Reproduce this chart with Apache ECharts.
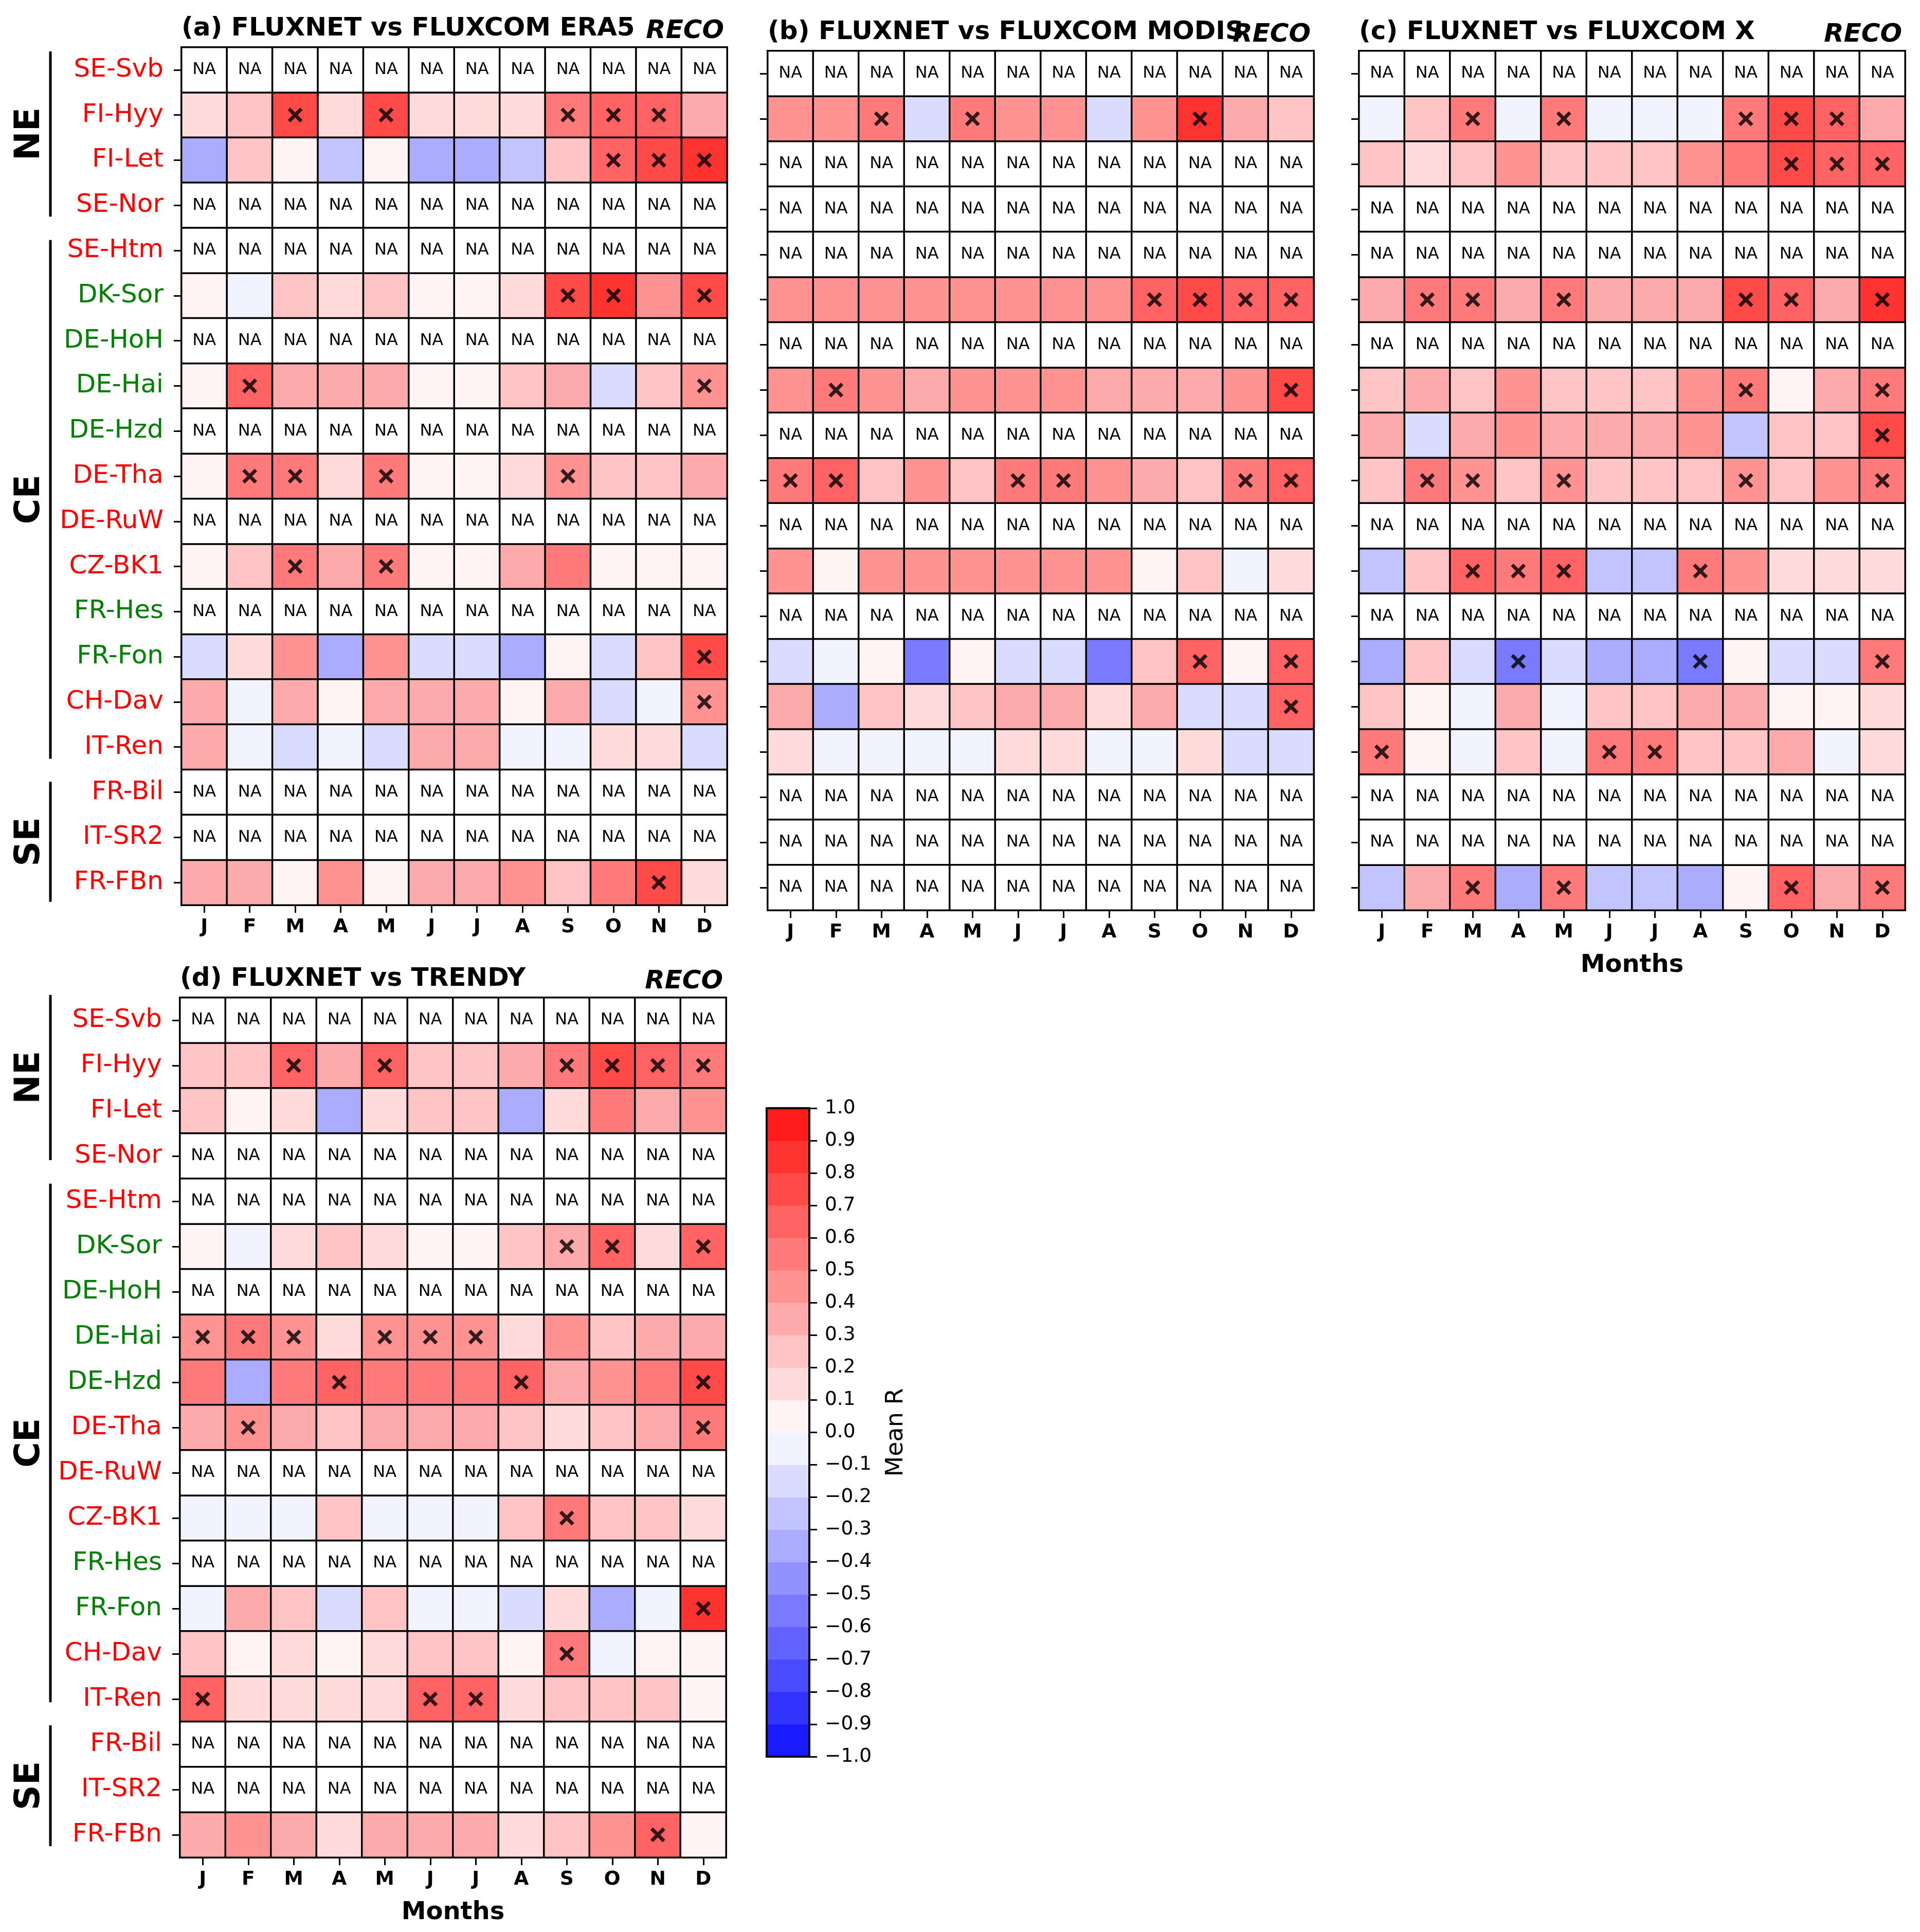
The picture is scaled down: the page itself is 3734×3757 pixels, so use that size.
<!DOCTYPE html>
<html><head><meta charset="utf-8">
<script src="https://cdn.jsdelivr.net/npm/echarts@6/dist/echarts.min.js"></script>
<style>html,body{margin:0;padding:0;background:#fff}#c{width:3734px;height:3757px}</style>
</head><body><div id="c"></div><script>
// ---------------- DATA ----------------
const months = ['J','F','M','A','M','J','J','A','S','O','N','D'];
const sites = ['SE-Svb','FI-Hyy','FI-Let','SE-Nor','SE-Htm','DK-Sor','DE-HoH','DE-Hai','DE-Hzd','DE-Tha','DE-RuW','CZ-BK1','FR-Hes','FR-Fon','CH-Dav','IT-Ren','FR-Bil','IT-SR2','FR-FBn'];
const greenSites = ['DK-Sor','DE-HoH','DE-Hai','DE-Hzd','FR-Hes','FR-Fon'];
const regions = [{name:'NE', first:0, last:3},{name:'CE', first:4, last:15},{name:'SE', first:16, last:18}];
const panelTitles = ['(a) FLUXNET vs FLUXCOM ERA5','(b) FLUXNET vs FLUXCOM MODIS','(c) FLUXNET vs FLUXCOM X','(d) FLUXNET vs TRENDY'];
const variableName = 'RECO';
const colorbarLabel = 'Mean R';
const cbBounds = [-1.0,-0.9,-0.8,-0.7,-0.6,-0.5,-0.4,-0.3,-0.2,-0.1,0.0,0.1,0.2,0.3,0.4,0.5,0.6,0.7,0.8,0.9,1.0];
const N = null;

const valuesA = [
  N,
  [0.15,0.25,0.75,0.15,0.75,0.15,0.15,0.15,0.55,0.65,0.65,0.35],
  [-0.35,0.25,0.05,-0.25,0.05,-0.35,-0.35,-0.25,0.25,0.65,0.75,0.85],
  N, N,
  [0.05,-0.05,0.25,0.15,0.25,0.05,0.05,0.15,0.75,0.85,0.45,0.75],
  N,
  [0.05,0.65,0.35,0.35,0.35,0.05,0.05,0.25,0.35,-0.15,0.25,0.45],
  N,
  [0.05,0.55,0.55,0.15,0.55,0.05,0.05,0.15,0.45,0.25,0.25,0.35],
  N,
  [0.05,0.25,0.55,0.35,0.55,0.05,0.05,0.35,0.55,0.05,0.05,0.05],
  N,
  [-0.15,0.15,0.45,-0.35,0.45,-0.15,-0.15,-0.35,0.05,-0.15,0.25,0.75],
  [0.35,-0.05,0.35,0.05,0.35,0.35,0.35,0.05,0.35,-0.15,-0.05,0.45],
  [0.35,-0.05,-0.15,-0.05,-0.15,0.35,0.35,-0.05,-0.05,0.15,0.15,-0.15],
  N, N,
  [0.35,0.35,0.05,0.45,0.05,0.35,0.35,0.45,0.25,0.55,0.75,0.15]
];
const sigA = ['............','..x.x...xxx.','.........xxx','............','............','........xx.x','............','.x.........x','............','.xx.x...x...','............','..x.x.......','............','...........x','...........x','............','............','............','..........x.'];

const valuesB = [
  N,
  [0.45,0.45,0.55,-0.15,0.55,0.45,0.45,-0.15,0.45,0.85,0.35,0.25],
  N, N, N,
  [0.45,0.45,0.45,0.45,0.45,0.45,0.45,0.45,0.65,0.75,0.65,0.65],
  N,
  [0.45,0.55,0.45,0.35,0.45,0.45,0.45,0.35,0.35,0.35,0.45,0.75],
  N,
  [0.55,0.65,0.25,0.45,0.25,0.55,0.55,0.45,0.35,0.25,0.55,0.65],
  N,
  [0.45,0.05,0.45,0.45,0.45,0.45,0.45,0.45,0.05,0.25,-0.05,0.15],
  N,
  [-0.15,-0.05,0.05,-0.55,0.05,-0.15,-0.15,-0.55,0.25,0.65,0.05,0.65],
  [0.35,-0.35,0.25,0.15,0.25,0.35,0.35,0.15,0.35,-0.15,-0.15,0.65],
  [0.15,-0.05,-0.05,-0.05,-0.05,0.15,0.15,-0.05,-0.05,0.15,-0.15,-0.15],
  N, N, N
];
const sigB = ['............','..x.x....x..','............','............','............','........xxxx','............','.x.........x','............','xx...xx...xx','............','............','............','.........x.x','...........x','............','............','............','............'];

const valuesC = [
  N,
  [-0.05,0.25,0.55,-0.05,0.55,-0.05,-0.05,-0.05,0.55,0.75,0.65,0.35],
  [0.25,0.15,0.25,0.45,0.25,0.25,0.25,0.45,0.55,0.75,0.65,0.65],
  N, N,
  [0.35,0.55,0.55,0.35,0.55,0.35,0.35,0.35,0.75,0.65,0.35,0.85],
  N,
  [0.25,0.35,0.25,0.45,0.25,0.25,0.25,0.45,0.55,0.05,0.35,0.55],
  [0.35,-0.15,0.35,0.45,0.35,0.35,0.35,0.45,-0.25,0.25,0.25,0.75],
  [0.25,0.55,0.45,0.25,0.45,0.25,0.25,0.25,0.45,0.25,0.45,0.55],
  N,
  [-0.25,0.25,0.65,0.55,0.65,-0.25,-0.25,0.55,0.45,0.15,0.15,0.15],
  N,
  [-0.35,0.25,-0.15,-0.55,-0.15,-0.35,-0.35,-0.55,0.05,-0.15,-0.15,0.55],
  [0.25,0.05,-0.05,0.35,-0.05,0.25,0.25,0.35,0.35,0.05,0.05,0.15],
  [0.55,0.05,-0.05,0.25,-0.05,0.55,0.55,0.25,0.25,0.35,-0.05,0.15],
  N, N,
  [-0.25,0.35,0.55,-0.35,0.55,-0.25,-0.25,-0.35,0.05,0.65,0.35,0.55]
];
const sigC = ['............','..x.x...xxx.','.........xxx','............','............','.xx.x...xx.x','............','........x..x','...........x','.xx.x...x..x','............','..xxx..x....','............','...x...x...x','............','x....xx.....','............','............','..x.x....x.x'];

const valuesD = [
  N,
  [0.25,0.25,0.65,0.35,0.65,0.25,0.25,0.35,0.55,0.75,0.65,0.55],
  [0.25,0.05,0.15,-0.35,0.15,0.25,0.25,-0.35,0.15,0.55,0.35,0.45],
  N, N,
  [0.05,-0.05,0.15,0.25,0.15,0.05,0.05,0.25,0.35,0.65,0.15,0.65],
  N,
  [0.45,0.55,0.45,0.15,0.45,0.45,0.45,0.15,0.45,0.25,0.35,0.35],
  [0.55,-0.35,0.55,0.65,0.55,0.55,0.55,0.65,0.35,0.45,0.55,0.75],
  [0.35,0.45,0.35,0.25,0.35,0.35,0.35,0.25,0.15,0.25,0.35,0.55],
  N,
  [-0.05,-0.05,-0.05,0.25,-0.05,-0.05,-0.05,0.25,0.55,0.25,0.25,0.15],
  N,
  [-0.05,0.35,0.25,-0.15,0.25,-0.05,-0.05,-0.15,0.15,-0.35,-0.05,0.85],
  [0.25,0.05,0.15,0.05,0.15,0.25,0.25,0.05,0.55,-0.05,0.05,0.05],
  [0.65,0.15,0.15,0.15,0.15,0.65,0.65,0.15,0.25,0.25,0.25,0.05],
  N, N,
  [0.35,0.45,0.35,0.15,0.35,0.35,0.35,0.15,0.25,0.45,0.65,0.05]
];
const sigD = ['............','..x.x...xxxx','............','............','............','........xx.x','............','xxx.xxx.....','...x...x...x','.x.........x','............','........x...','............','...........x','........x...','x....xx.....','............','............','..........x.'];

// ---------------- LAYOUT / STYLE ----------------
const FONT = '"DejaVu Sans"';
const gridBoxes = [
  {left:353, top:92, width:1061, height:1668},
  {left:1493, top:99, width:1062, height:1671},
  {left:2643, top:99, width:1062, height:1671},
  {left:350, top:1940, width:1062, height:1672}
];
const cbBox = {left:1491, top:2155, width:83, height:1261};
const panels = [
  {values:valuesA, sig:sigA, showSites:true, xName:''},
  {values:valuesB, sig:sigB, showSites:false, xName:''},
  {values:valuesC, sig:sigC, showSites:false, xName:'Months'},
  {values:valuesD, sig:sigD, showSites:true, xName:'Months'}
];

function cmapColor(k){ // discretised matplotlib bwr, alpha 0.9 over white
  const t = k/19;
  let r,g,b;
  if (t < 0.5){ r = 2*t; g = 2*t; b = 1; } else { r = 1; g = 2*(1-t); b = 2*(1-t); }
  const f = c => Math.round((0.9*c + 0.1)*255);
  return 'rgb(' + f(r) + ',' + f(g) + ',' + f(b) + ')';
}
const pieces = [];
for (let k = 0; k < cbBounds.length-1; k++) pieces.push({min:cbBounds[k], max:cbBounds[k+1], color:cmapColor(k)});

const xPath = 'path://M0,3.4L3.4,0L10,6.6L16.6,0L20,3.4L13.4,10L20,16.6L16.6,20L10,13.4L3.4,20L0,16.6L6.6,10Z';

const grids = [], xAxes = [], yAxes = [], series = [], valueSeriesIdx = [], naSeriesIdx = [], graphics = [];

panels.forEach((p, gi) => {
  grids.push(Object.assign({containLabel:false}, gridBoxes[gi]));
  xAxes.push({
    gridIndex:gi, type:'category', data: months.map((m,i)=>String(i)), position:'bottom',
    axisLine:{show:true, lineStyle:{color:'#000', width:3.5}},
    axisTick:{show:true, alignWithLabel:true, length:15, lineStyle:{color:'#000', width:3}},
    axisLabel:{show:true, interval:0, margin:24, formatter:(v,i)=>months[i], color:'#000', fontSize:37.5, fontWeight:'bold', fontFamily:FONT},
    splitLine:{show:false},
    name:p.xName, nameLocation:'middle', nameGap:84,
    nameTextStyle:{color:'#000', fontSize:48, fontWeight:'bold', fontFamily:FONT}
  });
  yAxes.push({
    gridIndex:gi, type:'category', data:sites, inverse:true,
    axisLine:{show:true, lineStyle:{color:'#000', width:3.5}},
    axisTick:{show:true, alignWithLabel:true, length:15, lineStyle:{color:'#000', width:3}},
    axisLabel:{show:p.showSites, interval:0, margin:35,
      formatter: v => greenSites.indexOf(v) >= 0 ? '{g|' + v + '}' : '{r|' + v + '}',
      rich:{g:{color:'#008000', fontSize:50, fontFamily:FONT}, r:{color:'#ff0000', fontSize:50, fontFamily:FONT}}},
    splitLine:{show:false}
  });
  const valData = [], naData = [], sigData = [];
  p.values.forEach((row, r) => {
    for (let c = 0; c < months.length; c++) {
      if (row === null) naData.push([c, r, 0]);
      else {
        valData.push([c, r, row[c]]);
        if (p.sig[r].charAt(c) === 'x') sigData.push([c, r]);
      }
    }
  });
  valueSeriesIdx.push(series.length);
  series.push({type:'heatmap', xAxisIndex:gi, yAxisIndex:gi, data:valData,
    itemStyle:{borderColor:'#000', borderWidth:3.5}, emphasis:{disabled:true}, silent:true});
  naSeriesIdx.push(series.length);
  series.push({type:'heatmap', xAxisIndex:gi, yAxisIndex:gi, data:naData,
    itemStyle:{color:'#fff', borderColor:'#000', borderWidth:3.5}, emphasis:{disabled:true}, silent:true,
    label:{show:true, formatter:'NA', color:'#000', fontSize:32, fontFamily:FONT}});
  series.push({type:'scatter', xAxisIndex:gi, yAxisIndex:gi, data:sigData, symbol:xPath, symbolSize:29,
    itemStyle:{color:'#000'}, z:5, silent:true});

  const g = gridBoxes[gi];
  graphics.push({type:'text', x:g.left, y:g.top-36, z:10,
    style:{text:panelTitles[gi], font:'bold 50px ' + FONT, fill:'#000', align:'left', verticalAlign:'middle'}});
  graphics.push({type:'text', x:g.left+g.width-6, y:g.top-31, z:10,
    style:{text:variableName, font:'italic bold 50px ' + FONT, fill:'#000', align:'right', verticalAlign:'middle'}});
});

// colour bar grid
const cbGi = panels.length;
grids.push(Object.assign({containLabel:false}, cbBox));
xAxes.push({gridIndex:cbGi, type:'category', data:[''], show:false});
yAxes.push({gridIndex:cbGi, type:'value', min:-1, max:1, interval:0.1, position:'right',
  axisLine:{show:false}, splitLine:{show:false},
  axisTick:{show:true, length:15, lineStyle:{color:'#000', width:3}},
  axisLabel:{show:true, margin:30, color:'#000', fontSize:37.5, fontFamily:FONT,
    formatter: v => { const r = Math.round(v*10)/10; return (r < 0 ? '\u2212' : '') + Math.abs(r).toFixed(1); }}});
const cbData = [];
for (let k = 0; k < cbBounds.length-1; k++) cbData.push([0, cbBounds[k], cbBounds[k+1], k]);
series.push({type:'custom', xAxisIndex:cbGi, yAxisIndex:cbGi, data:cbData, encode:{x:0, y:[1,2]}, silent:true,
  renderItem:(params, api) => {
    const lo = api.coord([0, api.value(1)]), hi = api.coord([0, api.value(2)]);
    const w = api.size([1, 0])[0];
    return {type:'rect', shape:{x:lo[0]-w/2, y:hi[1], width:w, height:lo[1]-hi[1]+0.5},
      style:{fill:cmapColor(api.value(3)), stroke:null}};
  }});
series.push({type:'custom', xAxisIndex:cbGi, yAxisIndex:cbGi, data:[[0, cbBounds[0], cbBounds[cbBounds.length-1]]], encode:{x:0, y:[1,2]}, silent:true, z:4,
  renderItem:(params, api) => {
    const lo = api.coord([0, api.value(1)]), hi = api.coord([0, api.value(2)]);
    const w = api.size([1, 0])[0];
    return {type:'rect', shape:{x:lo[0]-w/2, y:hi[1], width:w, height:lo[1]-hi[1]},
      style:{fill:null, stroke:'#000', lineWidth:4}};
  }});
graphics.push({type:'text', x:1743, y:cbBox.top + cbBox.height/2, rotation:Math.PI/2, z:10,
  style:{text:colorbarLabel, font:'46px ' + FONT, fill:'#000', align:'center', verticalAlign:'middle'}});

const chart = echarts.init(document.getElementById('c'), null, {renderer:'canvas', width:3734, height:3757});
chart.setOption({
  animation:false, backgroundColor:'#fff',
  grid:grids, xAxis:xAxes, yAxis:yAxes,
  visualMap:[
    {type:'piecewise', show:false, dimension:2, seriesIndex:valueSeriesIdx, pieces:pieces},
    {type:'piecewise', show:false, dimension:2, seriesIndex:naSeriesIdx, pieces:[{min:-10, max:10, color:'#ffffff'}]}
  ],
  series:series, graphic:graphics
});

// region brackets on panels (a) and (d), placed in row units
const bracketRows = {0:[[-0.41,3.25],[3.77,15.26],[15.77,18.43]], 3:[[-0.56,3.09],[3.61,15.07],[15.58,18.25]]};
Object.keys(bracketRows).forEach(key => {
  const gi = Number(key);
  const c0 = chart.convertToPixel({xAxisIndex:gi, yAxisIndex:gi}, [0, 0]);
  const c1 = chart.convertToPixel({xAxisIndex:gi, yAxisIndex:gi}, [0, 1]);
  const rh = c1[1] - c0[1];
  const yAt = r => c0[1] + r*rh;
  regions.forEach((reg, i) => {
    const span = bracketRows[gi][i];
    const y1 = yAt(span[0]), y2 = yAt(span[1]);
    graphics.push({type:'line', z:10, shape:{x1:98, y1:y1, x2:98, y2:y2}, style:{stroke:'#000', lineWidth:5}});
    graphics.push({type:'text', x:58, y:(y1+y2)/2, rotation:Math.PI/2, z:10,
      style:{text:reg.name, font:'bold 68px ' + FONT, fill:'#000', align:'center', verticalAlign:'middle'}});
  });
});
chart.setOption({graphic:graphics});
</script></body></html>
